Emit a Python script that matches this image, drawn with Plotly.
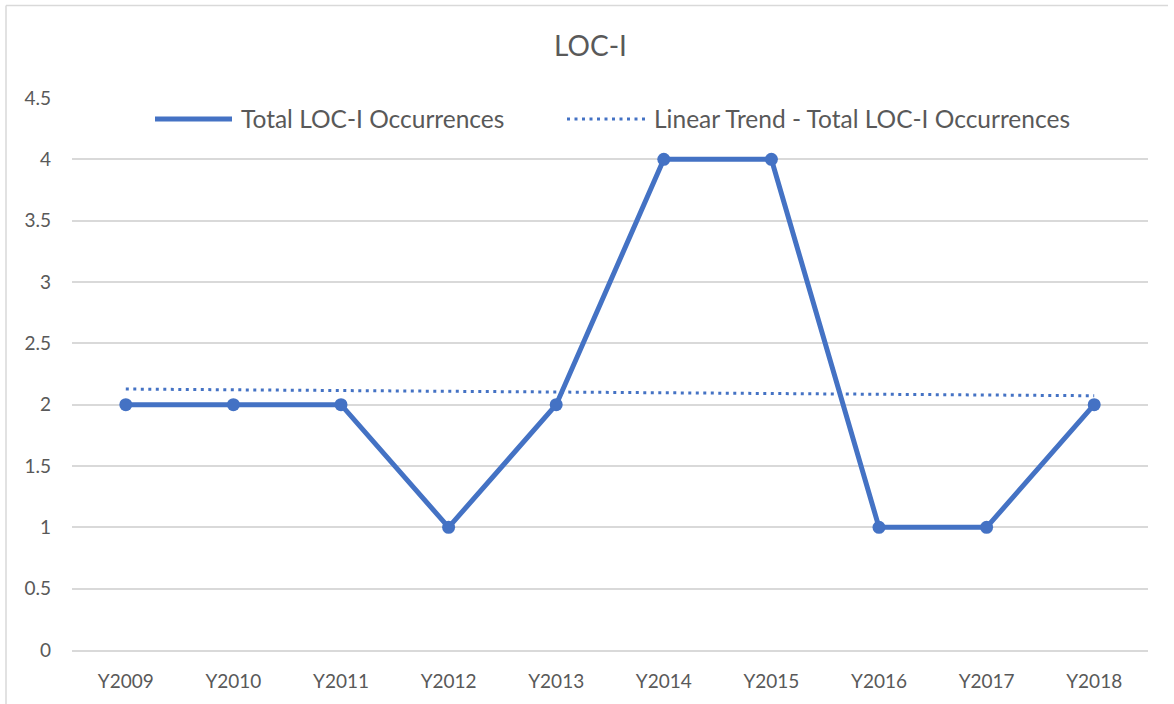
import numpy as np
import plotly.graph_objects as go

categories = ["Y2009", "Y2010", "Y2011", "Y2012", "Y2013", "Y2014", "Y2015", "Y2016", "Y2017", "Y2018"]
occurrences = [2, 2, 2, 1, 2, 4, 4, 1, 1, 2]
y_ticks = [0, 0.5, 1, 1.5, 2, 2.5, 3, 3.5, 4, 4.5]

series_name = "Total LOC-I Occurrences"
trend_name = "Linear Trend - Total LOC-I Occurrences"

BLUE = "#4472C4"
TEXT = "#595959"
GRID = "#D9D9D9"
FONT = "Lato"

# linear trend (least squares fit of the series)
idx = np.arange(len(occurrences))
slope, intercept = np.polyfit(idx, occurrences, 1)
trend = (slope * idx + intercept).tolist()

fig = go.Figure()
fig.add_trace(go.Scatter(
    x=categories, y=trend, mode="lines", name=trend_name,
    line=dict(color=BLUE, width=3, dash="3px,4.5px"), showlegend=False,
))
fig.add_trace(go.Scatter(
    x=categories, y=occurrences, mode="lines+markers", name=series_name,
    line=dict(color=BLUE, width=5), marker=dict(size=13, color=BLUE),
    showlegend=False,
))

L, R, T, B = 72, 26, 98, 54
W, H = 1174, 704
pw, ph = W - L - R, H - T - B

def px(x):
    return (x - L) / pw

def py(y):
    return (H - B - y) / ph

shapes = [
    # legend background (breaks the top gridline)
    dict(type="rect", xref="paper", yref="paper", x0=px(134), x1=px(1098), y0=py(140), y1=py(96),
         fillcolor="white", line=dict(width=0), layer="above"),
    # legend samples
    dict(type="line", xref="paper", yref="paper", x0=px(155), x1=px(232), y0=py(119), y1=py(119),
         line=dict(color=BLUE, width=5), layer="above"),
    dict(type="line", xref="paper", yref="paper", x0=px(567), x1=px(646), y0=py(119), y1=py(119),
         line=dict(color=BLUE, width=3, dash="3px,4.5px"), layer="above"),
    # chart area border (top and left edges visible)
    dict(type="line", xref="paper", yref="paper", x0=px(6), x1=px(1168), y0=py(5.5), y1=py(5.5),
         line=dict(color=GRID, width=1.5), layer="above"),
    dict(type="line", xref="paper", yref="paper", x0=px(6), x1=px(6), y0=py(5.5), y1=py(704),
         line=dict(color=GRID, width=1.5), layer="above"),
]

annotations = [
    dict(text=series_name, xref="paper", yref="paper", x=px(239), y=py(119), xanchor="left",
         yanchor="middle", showarrow=False, font=dict(family=FONT, size=24.5, color=TEXT)),
    dict(text=trend_name, xref="paper", yref="paper", x=px(652), y=py(119), xanchor="left",
         yanchor="middle", showarrow=False, font=dict(family=FONT, size=24.5, color=TEXT)),
]

fig.update_layout(
    width=W, height=H,
    margin=dict(l=L, r=R, t=T, b=B),
    paper_bgcolor="white", plot_bgcolor="white",
    title=dict(text="LOC-I", x=0.503, xref="container", xanchor="center",
               y=1 - 46 / H, yref="container", yanchor="middle",
               font=dict(family=FONT, size=28, color=TEXT)),
    font=dict(family=FONT, color=TEXT),
    showlegend=False,
    shapes=shapes,
    annotations=annotations,
    xaxis=dict(
        type="category", categoryorder="array", categoryarray=categories,
        range=[-0.5, len(categories) - 0.5],
        showgrid=False, showline=True, linecolor=GRID, linewidth=1.5,
        ticks="", tickfont=dict(family=FONT, size=19, color=TEXT),
        ticklabelstandoff=13, zeroline=False,
    ),
    yaxis=dict(
        range=[0, 4.5], tickmode="array", tickvals=y_ticks,
        ticktext=[f"{v:g}" for v in y_ticks],
        showgrid=True, gridcolor=GRID, gridwidth=1.5,
        zeroline=False, showline=False, ticks="",
        tickfont=dict(family=FONT, size=19, color=TEXT),
        ticklabelstandoff=20,
    ),
)

fig.write_html(
    "out.html",
    config={"displayModeBar": False},
    post_script="document.body.style.margin='0px';document.body.style.overflow='hidden';",
)
